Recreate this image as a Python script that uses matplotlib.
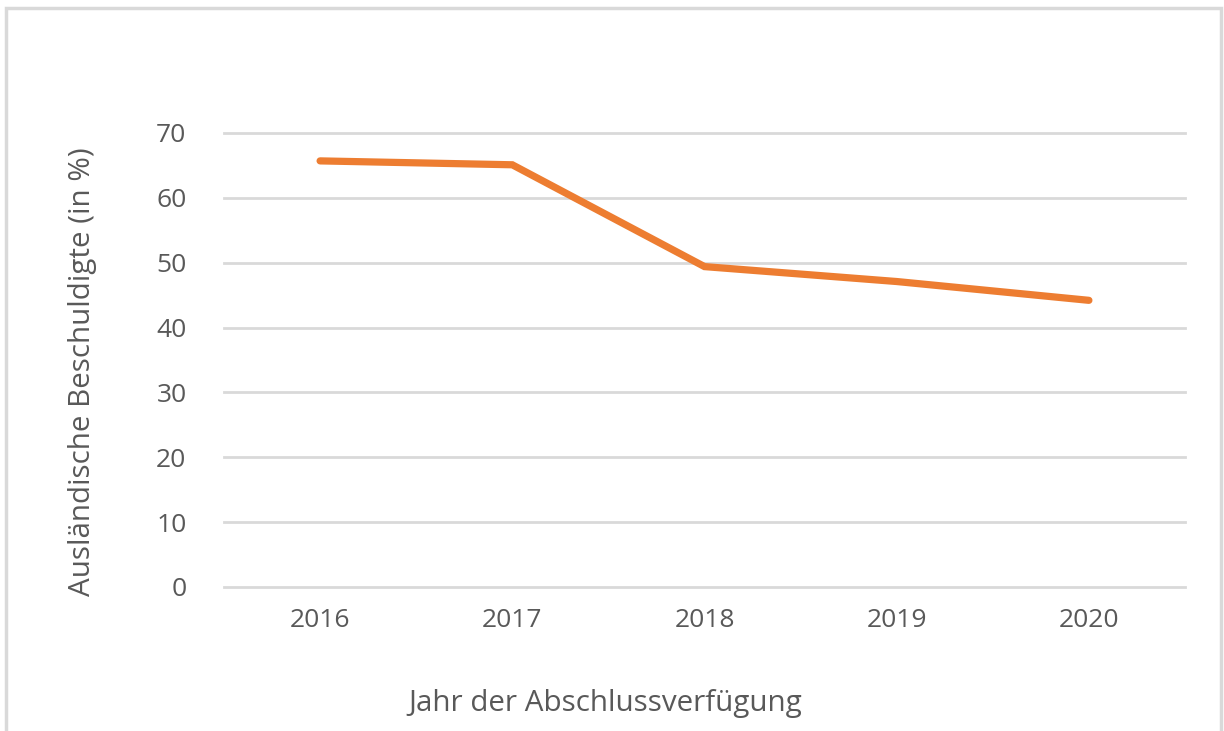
import matplotlib
matplotlib.use("Agg")
import matplotlib.pyplot as plt
from matplotlib.patches import Rectangle

years = ["2016", "2017", "2018", "2019", "2020"]
values = [65.7, 65.1, 49.4, 47.1, 44.2]
yticks = [0, 10, 20, 30, 40, 50, 60, 70]

plt.rcParams['font.family'] = ['Open Sans', 'DejaVu Sans']
W, H = 1224, 731
fig = plt.figure(figsize=(W / 100, H / 100), dpi=100)

txt = '#595959'
grid = '#d9d9d9'

ax = fig.add_axes([224 / W, 1 - 587 / H, (1185 - 224) / W, (587 - 133) / H])
x = list(range(len(years)))
ax.plot(x, values, color='#ED7D31', lw=5.2, solid_capstyle='round', solid_joinstyle='miter', zorder=3)
ax.set_xlim(-0.5, len(years) - 0.5)
ax.set_ylim(0, 70)
ax.set_yticks(yticks)
ax.set_xticks(x)
ax.set_xticklabels(years)
for s in ax.spines.values():
    s.set_visible(False)
ax.grid(axis='y', color=grid, lw=2)
for gl in ax.get_ygridlines():
    gl.set_clip_on(False)
ax.tick_params(axis='both', length=0, labelsize=19, colors=txt)
ax.tick_params(axis='y', pad=27)
ax.tick_params(axis='x', pad=15)
ax.set_axisbelow(True)

fig.text(83 / W, 1 - 372 / H, 'Ausländische Beschuldigte (in %)', rotation=90,
         ha='center', va='center', fontsize=21.3, color=txt)
fig.text(605 / W, 1 - 703 / H, 'Jahr der Abschlussverfügung',
         ha='center', va='center', fontsize=21.3, color=txt)

fig.patches.append(Rectangle((6 / W, -0.05), (1221 - 6) / W, 1.05 - 8 / H,
                             transform=fig.transFigure, fill=False,
                             edgecolor=grid, lw=2.5))

fig.savefig('out.png', dpi=100)
